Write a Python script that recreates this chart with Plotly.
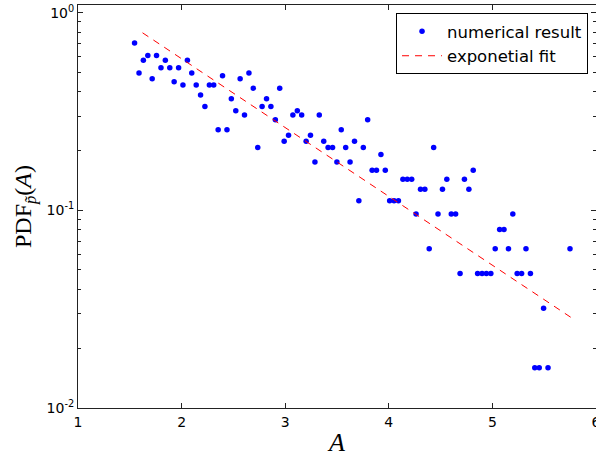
import plotly.graph_objects as go

# Histogram estimate of the PDF of A (bin centres and densities)
A_vals = [
    1.546, 1.589, 1.631, 1.674, 1.716, 1.758, 1.801, 1.843, 1.886, 1.928,
    1.971, 2.013, 2.056, 2.098, 2.141, 2.183, 2.225, 2.268, 2.310, 2.353,
    2.395, 2.438, 2.480, 2.523, 2.565, 2.607, 2.650, 2.692, 2.735, 2.777,
    2.820, 2.862, 2.905, 2.947, 2.990, 3.032, 3.074, 3.117, 3.159, 3.202,
    3.244, 3.287, 3.329, 3.372, 3.414, 3.457, 3.499, 3.541, 3.584, 3.626,
    3.669, 3.711, 3.754, 3.796, 3.839, 3.881, 3.924, 3.966, 4.008, 4.051,
    4.093, 4.136, 4.178, 4.221, 4.263, 4.306, 4.348, 4.390, 4.433, 4.475,
    4.518, 4.560, 4.603, 4.645, 4.688, 4.730, 4.773, 4.815, 4.857, 4.900,
    4.942, 4.985, 5.027, 5.070, 5.112, 5.155, 5.197, 5.239, 5.282, 5.324,
    5.367, 5.409, 5.452, 5.494, 5.537, 5.749,
]
pdf_vals = [
    0.704, 0.496, 0.576, 0.608, 0.464, 0.608, 0.528, 0.576, 0.528, 0.448,
    0.528, 0.432, 0.576, 0.496, 0.432, 0.384, 0.336, 0.432, 0.432, 0.256,
    0.480, 0.256, 0.368, 0.320, 0.464, 0.304, 0.496, 0.416, 0.208, 0.336,
    0.368, 0.336, 0.288, 0.416, 0.224, 0.240, 0.304, 0.320, 0.304, 0.224,
    0.240, 0.176, 0.304, 0.224, 0.208, 0.208, 0.176, 0.256, 0.208, 0.176,
    0.224, 0.112, 0.208, 0.288, 0.160, 0.160, 0.192, 0.160, 0.112, 0.112,
    0.112, 0.144, 0.144, 0.144, 0.096, 0.128, 0.128, 0.064, 0.208, 0.096,
    0.128, 0.144, 0.096, 0.096, 0.048, 0.144, 0.128, 0.160, 0.048, 0.048,
    0.048, 0.048, 0.064, 0.080, 0.080, 0.064, 0.096, 0.048, 0.048, 0.064,
    0.048, 0.016, 0.016, 0.032, 0.016, 0.064,
]

# Exponential fit (a straight line on the log axis): end points
fit_A = [1.623, 5.756]
fit_pdf = [0.793, 0.0288]

y_tick_vals = [0.01, 0.1, 1]
y_tick_text = ["10<sup>-2</sup>", "10<sup>-1</sup>", "10<sup>0</sup>"]
y_minor_vals = [m * d for d in (0.01, 0.1) for m in range(2, 10)]
x_tick_vals = [1, 2, 3, 4, 5, 6]

fig = go.Figure()
fig.add_trace(go.Scatter(
    x=A_vals, y=pdf_vals, mode="markers", name="numerical result",
    marker=dict(color="#0000ff", size=5.5, line=dict(width=0)),
))
fig.add_trace(go.Scatter(
    x=fit_A, y=fit_pdf, mode="lines", name="exponetial fit",
    line=dict(color="#ff0000", width=1, dash="7px,6px"),
))

axis_common = dict(
    showline=True, linecolor="#222222", linewidth=1, mirror="allticks",
    ticks="inside", ticklen=5, tickwidth=1, tickcolor="#222222",
    showgrid=False, zeroline=False, ticklabeloverflow="allow",
    tickfont=dict(family="DejaVu Sans", size=14, color="black"),
)

fig.update_xaxes(
    range=[1, 6], tickvals=x_tick_vals, ticklabelstandoff=1,
    title=dict(text="<i>A</i>", standoff=4,
               font=dict(family="Liberation Serif", size=26, color="black")),
    **axis_common,
)
fig.update_yaxes(
    type="log", range=[-2, 0.04], tickvals=y_tick_vals, ticktext=y_tick_text,
    ticklabelstandoff=0,
    minor=dict(tickvals=y_minor_vals, ticks="inside", ticklen=3,
               tickcolor="#222222", showgrid=False),
    title=dict(text="PDF<sub><i>p\u0303</i></sub>(<i>A</i>)", standoff=8,
               font=dict(family="Liberation Serif", size=24, color="black")),
    **axis_common,
)

fig.update_layout(
    width=596, height=457,
    margin=dict(l=78, r=0, t=5, b=49, autoexpand=False),
    paper_bgcolor="white", plot_bgcolor="white",
    showlegend=True,
    legend=dict(
        x=0.9846, xanchor="right", y=0.98, yanchor="top",
        bgcolor="white", bordercolor="black", borderwidth=1,
        font=dict(family="DejaVu Sans", size=16.5, color="black"),
        itemwidth=40, tracegroupgap=0,
    ),
)

fig.write_html("out.html")
